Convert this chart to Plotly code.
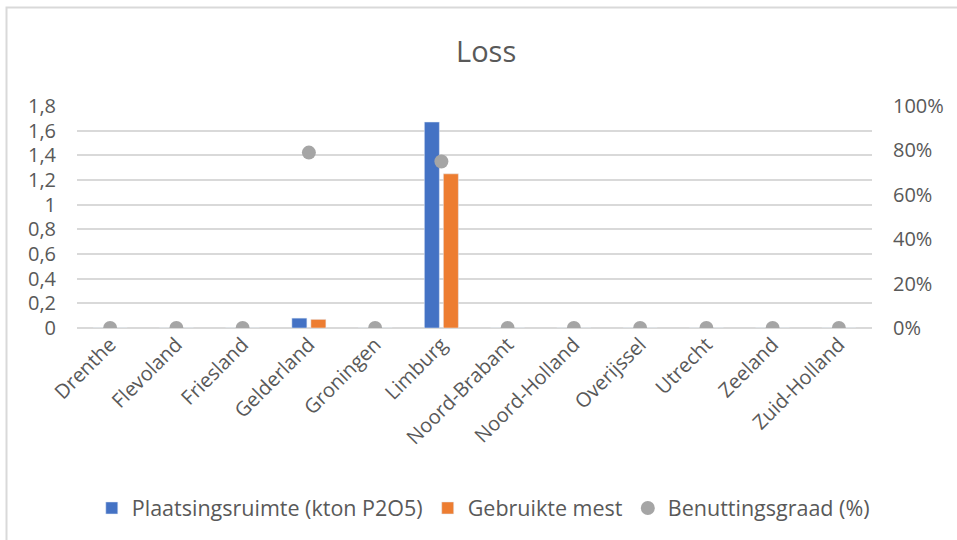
import plotly.graph_objects as go

# Provinces and values
provinces = ["Drenthe", "Flevoland", "Friesland", "Gelderland", "Groningen", "Limburg",
             "Noord-Brabant", "Noord-Holland", "Overijssel", "Utrecht", "Zeeland", "Zuid-Holland"]
plaatsingsruimte = [0, 0, 0, 0.08, 0, 1.67, 0, 0, 0, 0, 0, 0]
gebruikte_mest = [0, 0, 0, 0.07, 0, 1.25, 0, 0, 0, 0, 0, 0]
benuttingsgraad = [0, 0, 0, 0.79, 0, 0.75, 0, 0, 0, 0, 0, 0]

left_ticks = [0, 0.2, 0.4, 0.6, 0.8, 1.0, 1.2, 1.4, 1.6, 1.8]
left_labels = ["0", "0,2", "0,4", "0,6", "0,8", "1", "1,2", "1,4", "1,6", "1,8"]
right_ticks = [0, 0.2, 0.4, 0.6, 0.8, 1.0]
right_labels = ["0%", "20%", "40%", "60%", "80%", "100%"]

FONT = "'Open Sans', sans-serif"
TEXT = "#595959"
GRID = "#D9D9D9"
FS = 20

fig = go.Figure()
fig.add_trace(go.Bar(x=provinces, y=plaatsingsruimte, name="Plaatsingsruimte (kton P2O5)",
                     marker=dict(color="#4472C4")))
fig.add_trace(go.Bar(x=provinces, y=gebruikte_mest, name="Gebruikte mest",
                     marker=dict(color="#ED7D31")))
fig.add_trace(go.Scatter(x=provinces, y=benuttingsgraad, name="Benuttingsgraad (%)",
                         mode="markers", yaxis="y2",
                         marker=dict(color="#A5A5A5", size=14)))

fig.update_layout(
    width=957, height=540,
    paper_bgcolor="white", plot_bgcolor="white",
    margin=dict(l=77, r=85, t=106, b=212),
    font=dict(family=FONT, size=FS, color=TEXT),
    title=dict(text="Loss", x=0.508, xanchor="center", xref="container",
               y=1 - 52 / 540, yanchor="middle", yref="container",
               font=dict(size=29, color=TEXT, family=FONT)),
    barmode="group", bargap=0.426, bargroupgap=0.21,
    showlegend=True,
    legend=dict(orientation="h", x=0.505, xanchor="center", xref="container",
                y=1 - 508 / 540, yanchor="middle", yref="container",
                font=dict(size=21.5, color=TEXT), itemwidth=30,
                traceorder="normal"),
    xaxis=dict(range=[-0.5, 11.5], tickangle=-45, showgrid=False, showline=False,
               ticks="", tickfont=dict(size=FS, color=TEXT)),
    yaxis=dict(range=[0, 1.8], tickvals=left_ticks, ticktext=left_labels,
               showgrid=True, gridcolor=GRID, gridwidth=1.5,
               zeroline=True, zerolinecolor=GRID, zerolinewidth=1.5,
               ticks="", ticklabelstandoff=20, showline=False,
               tickfont=dict(size=FS, color=TEXT)),
    yaxis2=dict(range=[0, 1.0], tickvals=right_ticks, ticktext=right_labels,
                overlaying="y", side="right", showgrid=False, zeroline=False,
                ticks="", ticklabelstandoff=20, showline=False,
                tickfont=dict(size=FS, color=TEXT)),
    shapes=[dict(type="rect", xref="paper", yref="paper",
                 x0=(6.5 - 77) / 795, x1=(970 - 77) / 795,
                 y0=(328 - 560) / 222, y1=(328 - 7.5) / 222,
                 line=dict(color="#D9D9D9", width=2), fillcolor="rgba(0,0,0,0)",
                 layer="below")],
)

fig.write_html("out.html")
